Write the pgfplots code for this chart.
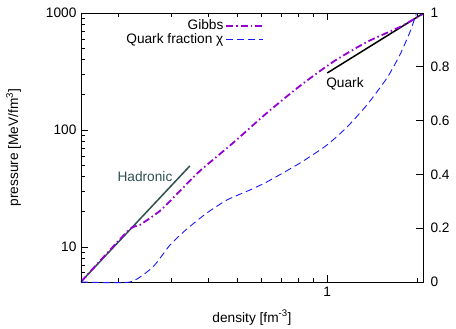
\documentclass[border=0pt]{standalone}
\usepackage{fontspec}
\setmainfont{Liberation Sans}
\usepackage{pgfplots}
\pgfplotsset{compat=1.18}
\definecolor{gibbs}{RGB}{148,0,211}
\definecolor{chiblue}{RGB}{25,25,255}
\definecolor{hadr}{RGB}{47,79,79}
\begin{document}
\begin{tikzpicture}[font=\fontsize{13.7}{15.5}\selectfont]
\pgfplotsset{
  gibbsstyle/.style={gibbs, line width=1.8pt, dash pattern=on 7pt off 3pt on 1.5pt off 3pt},
  chistyle/.style={chiblue, line width=0.9pt, dash pattern=on 7pt off 4pt},
}
\begin{axis}[
  scale only axis, width=342pt, height=269pt,
  xmode=log, ymode=log,
  xmin=0.15, xmax=2.09, ymin=5, ymax=1000,
  xtick={1}, xticklabels={1},
  minor xtick={0.2,0.3,0.4,0.5,0.6,0.7,0.8,0.9,2},
  ytick={10,100,1000}, yticklabels={10,100,1000},
  minor ytick={6,7,8,9,20,30,40,50,60,70,80,90,200,300,400,500,600,700,800,900},
  ytick pos=left,
  tick align=inside, major tick length=7pt, minor tick length=4pt,
  tick style={black, line width=0.6pt},
  axis line style={line width=0.9pt},
  /pgf/number format/assume math mode=true,
  xlabel={density [fm\textsuperscript{-3}]},
  ylabel={pressure [MeV/fm\textsuperscript{3}]},
  xlabel style={at={(axis description cs:0.5,-0.132)}, anchor=center},
  ylabel style={at={(axis description cs:-0.197,0.5)}, anchor=center},
  xticklabel style={yshift=-2pt},
  yticklabel style={xshift=-1pt},
]
\addplot[hadr, line width=1.5pt] coordinates {(0.15,5.02) (0.347,49.2)};
\addplot[black, line width=1.5pt] coordinates {(1.0,307) (2.09,990)};
\addplot[gibbsstyle, smooth, tension=0.4] coordinates {
(0.150,5.02) (0.2154,13.7) (0.236,15.4) (0.2756,20.3) (0.3216,30.1) (0.375,44.6) (0.484,77.4)
(0.628,139.7) (0.810,237.7) (1.044,381) (1.357,565) (1.749,759) (2.09,981)};
\node[hadr] at (axis cs:0.2455,39.6) {Hadronic};
\node[black] at (axis cs:1.146,247) {Quark};
\end{axis}
\begin{axis}[
  scale only axis, width=342pt, height=269pt,
  xmode=log, xmin=0.15, xmax=2.09, ymin=0, ymax=1,
  xtick=\empty,
  ytick={0,0.2,0.4,0.6,0.8,1}, yticklabels={0,0.2,0.4,0.6,0.8,1},
  ytick pos=right, yticklabel pos=right,
  tick align=inside, major tick length=7pt,
  tick style={black, line width=0.6pt},
  axis line style={line width=0.9pt},
  yticklabel style={xshift=4pt},
  clip=false,
  legend plot pos=right,
  legend cell align=right,
  legend image code/.code={\draw[#1] (0pt,0pt) -- (37pt,0pt);},
  legend style={draw=none, fill=none, at={(0.545,0.99)}, anchor=north east,
    row sep=-1.5pt, font=\fontsize{13.7}{15.5}\selectfont},
]
\addlegendimage{gibbsstyle}
\addlegendentry{Gibbs}
\addplot[chistyle, smooth, tension=0.35] coordinates {
(0.150,0) (0.219,0) (0.261,0.056) (0.298,0.138) (0.339,0.197) (0.396,0.257)
(0.462,0.305) (0.551,0.342) (0.628,0.372) (0.810,0.442) (0.997,0.509) (1.164,0.576)
(1.357,0.658) (1.583,0.758) (1.749,0.844) (1.890,0.929) (1.99,1.0)};
\addlegendentry{Quark fraction χ}
\end{axis}
\path (-81pt,-44pt) rectangle (375pt,282pt);
\end{tikzpicture}
\end{document}
